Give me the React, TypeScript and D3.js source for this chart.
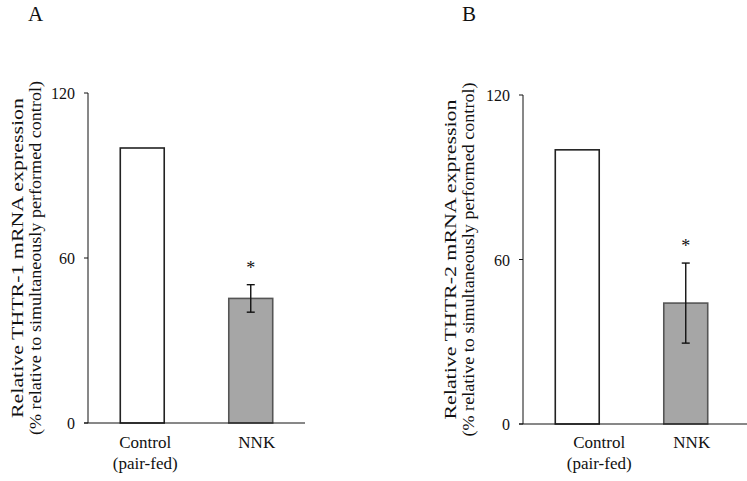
import React from "react";
import * as d3 from "d3";

const categories = ["Control", "NNK"];
const categorySub = ["(pair-fed)", ""];
const valuesA = [100, 45.3];
const errorsA = [0, 5];
const valuesB = [100, 44.1];
const errorsB = [0, 14.6];
const significant = [false, true];
const yTicks = [0, 60, 120];

const W = 747;
const H = 481;
const FONT = "Liberation Serif, DejaVu Serif, serif";

type PanelProps = {
  letter: string;
  letterX: number;
  values: number[];
  errors: number[];
  xRange: [number, number];
  axisEnd: number;
  yRange: [number, number];
  labelLine1: string;
  labelX: number;
  labelDx: number[];
};

function Panel(p: PanelProps) {
  const y = d3.scaleLinear().domain([0, 120]).range(p.yRange);
  const x = d3.scaleBand().domain(categories).range(p.xRange).paddingInner(0.595).paddingOuter(0.2975);
  const x0 = p.xRange[0];
  const y0 = y(0);
  const midY = (y(0) + y(120)) / 2;
  return (
    <g>
      <text x={p.letterX} y={21} fontFamily={FONT} fontSize={21} fill="#111">{p.letter}</text>
      {/* y label */}
      <g transform={`translate(${p.labelX},${midY}) rotate(-90)`}>
        <text x={0} y={0} textAnchor="middle" fontFamily={FONT} fontSize={17} fill="#111" textLength={320} lengthAdjust="spacingAndGlyphs">{p.labelLine1}</text>
        <text x={0} y={18} textAnchor="middle" fontFamily={FONT} fontSize={17} fill="#111" textLength={354} lengthAdjust="spacingAndGlyphs">(% relative to simultaneously  performed  control)</text>
      </g>
      {/* y axis */}
      <line x1={x0} x2={x0} y1={y(120)} y2={y0} stroke="#111" strokeWidth={1} />
      {yTicks.map((t) => (
        <g key={t}>
          <line x1={x0 - 4} x2={x0} y1={y(t)} y2={y(t)} stroke="#111" />
          <text x={x0 - 13} y={y(t) + 6} textAnchor="end" fontFamily={FONT} fontSize={16} fill="#111">{t}</text>
        </g>
      ))}
      {/* bars */}
      {categories.map((c, i) => {
        const bx = x(c)!;
        const bw = x.bandwidth();
        const cx = bx + bw / 2;
        const top = y(p.values[i]);
        return (
          <g key={c}>
            <rect x={bx} y={top} width={bw} height={y0 - top}
              fill={i === 0 ? "#ffffff" : "#a6a6a6"} stroke={i === 0 ? "#222" : "#555"} strokeWidth={1.6} />
            {p.errors[i] > 0 && (
              <g stroke="#111" strokeWidth={1.4}>
                <line x1={cx} x2={cx} y1={y(p.values[i] + p.errors[i])} y2={y(p.values[i] - p.errors[i])} />
                <line x1={cx - 4} x2={cx + 4} y1={y(p.values[i] + p.errors[i])} y2={y(p.values[i] + p.errors[i])} />
                <line x1={cx - 4} x2={cx + 4} y1={y(p.values[i] - p.errors[i])} y2={y(p.values[i] - p.errors[i])} />
              </g>
            )}
            {significant[i] && (
              <text x={cx} y={y(p.values[i] + p.errors[i]) - 11} textAnchor="middle" fontFamily={FONT} fontSize={18} fill="#111">*</text>
            )}
            <text x={cx + p.labelDx[i]} y={448} textAnchor="middle" fontFamily={FONT} fontSize={17} fill="#111">{c}</text>
            {categorySub[i] && (
              <text x={cx + p.labelDx[i]} y={469} textAnchor="middle" fontFamily={FONT} fontSize={17} fill="#111">{categorySub[i]}</text>
            )}
          </g>
        );
      })}
      {/* x axis */}
      <line x1={x0 - 4} x2={p.axisEnd} y1={y0} y2={y0} stroke="#111" strokeWidth={1} />
    </g>
  );
}

export default function App() {
  return (
    <svg width={W} height={H} style={{ position: "absolute", left: 0, top: 0, background: "#fff" }}>
      <rect width={W} height={H} fill="#fff" />
      <Panel letter="A" letterX={28} values={valuesA} errors={errorsA} xRange={[88, 305]} axisEnd={305}
        yRange={[423, 93]} labelLine1="Relative THTR-1 mRNA expression" labelX={23} labelDx={[3, 6]} />
      <Panel letter="B" letterX={462} values={valuesB} errors={errorsB} xRange={[523, 740]} axisEnd={747}
        yRange={[424, 95]} labelLine1="Relative THTR-2 mRNA expression" labelX={456} labelDx={[22, 6]} />
    </svg>
  );
}
